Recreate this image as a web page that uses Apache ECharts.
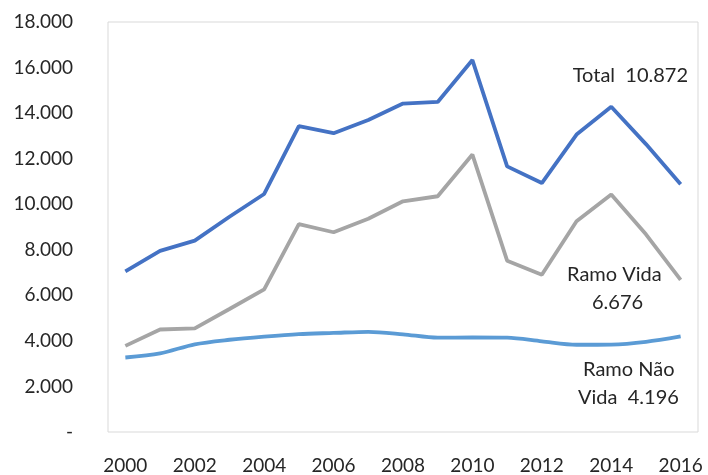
<!DOCTYPE html>
<html>
<head>
<meta charset="utf-8">
<script src="https://cdn.jsdelivr.net/npm/echarts@6/dist/echarts.min.js"></script>
<style>html,body{margin:0;padding:0;background:#fff}#c{width:708px;height:475px}</style>
</head>
<body>
<div id="c"></div>
<script>
const years = ['2000','2001','2002','2003','2004','2005','2006','2007','2008','2009','2010','2011','2012','2013','2014','2015','2016'];
const total   = [7050, 7950, 8400, 9450, 10450, 13430, 13120, 13700, 14420, 14490, 16330, 11660, 10930, 13060, 14280, 12640, 10872];
const vida    = [3780, 4500, 4550, 5400, 6260, 9130, 8770, 9360, 10130, 10350, 12180, 7520, 6900, 9250, 10430, 8680, 6676];
const naoVida = [3270, 3450, 3850, 4050, 4190, 4300, 4350, 4400, 4290, 4140, 4150, 4140, 3980, 3830, 3840, 3960, 4196];
const yTicks = { min: 0, max: 18000, interval: 2000 };
const labels = { total: 'Total  10.872', vida: ['Ramo Vida', '6.676'], naoVida: ['Ramo Não', 'Vida  4.196'] };

const FONT = 'Lato';
const chart = echarts.init(document.getElementById('c'), null, { renderer: 'canvas' });
const fmt = v => v === 0 ? '-' : (v/1000).toFixed(3);
const txt = { fontFamily: FONT, fontSize: 20, fill: '#262626' };
chart.setOption({
  animation: false,
  grid: { left: 108, right: 10, top: 22, bottom: 42, show: true, borderColor: '#D9D9D9', borderWidth: 1 },
  xAxis: {
    type: 'category', data: years, boundaryGap: true,
    axisLine: { show: false }, axisTick: { show: false },
    axisLabel: { interval: 1, margin: 24, fontFamily: FONT, fontSize: 19, color: '#262626' }
  },
  yAxis: {
    type: 'value', min: yTicks.min, max: yTicks.max, interval: yTicks.interval,
    splitLine: { show: false }, axisLine: { show: false }, axisTick: { show: false },
    axisLabel: { margin: 35, fontFamily: FONT, fontSize: 19, color: '#262626', formatter: fmt }
  },
  series: [
    { name: 'Total', type: 'line', data: total, symbol: 'none', lineStyle: { color: '#4472C4', width: 3.8 }, itemStyle: { color: '#4472C4' } },
    { name: 'Ramo Vida', type: 'line', data: vida, symbol: 'none', lineStyle: { color: '#A5A5A5', width: 3.8 }, itemStyle: { color: '#A5A5A5' } },
    { name: 'Ramo Não Vida', type: 'line', data: naoVida, symbol: 'none', smooth: 0.3, lineStyle: { color: '#5B9BD5', width: 3.8 }, itemStyle: { color: '#5B9BD5' } }
  ],
  graphic: [
    { type: 'text', right: 20, top: 66, style: Object.assign({ text: labels.total, textAlign: 'right' }, txt) },
    { type: 'text', left: 567, top: 265, style: Object.assign({ text: labels.vida[0] }, txt) },
    { type: 'text', left: 592, top: 293, style: Object.assign({ text: labels.vida[1] }, txt) },
    { type: 'text', left: 583, top: 360, style: Object.assign({ text: labels.naoVida[0] }, txt) },
    { type: 'text', left: 578, top: 388, style: Object.assign({ text: labels.naoVida[1] }, txt) }
  ]
});
</script>
</body>
</html>
